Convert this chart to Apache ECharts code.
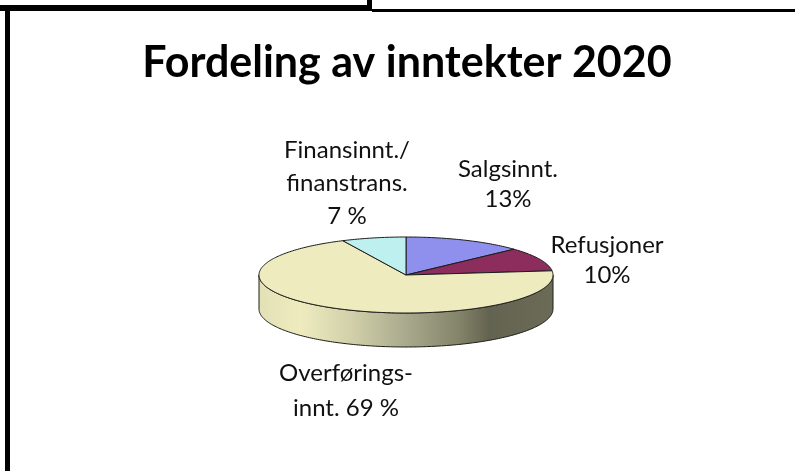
<!DOCTYPE html>
<html>
<head>
<meta charset="utf-8">
<title>Fordeling av inntekter 2020</title>
<script src="https://cdn.jsdelivr.net/npm/echarts@6/dist/echarts.min.js"></script>
<style>
  html, body { margin: 0; padding: 0; background: #fff; }
  #chart { width: 795px; height: 471px; }
</style>
</head>
<body>
<div id="chart"></div>
<script>
// verdier lest av figuren (summerer til 99, slik som originalen)
const categories = ['Salgsinnt.', 'Refusjoner', 'Overførings', 'Finansinnt.'];
const values = [13, 10, 69, 7];
const labels = ['Salgsinnt.\n13%', 'Refusjoner\n10%', 'Overførings-\ninnt. 69 %', 'Finansinnt./\nfinanstrans.\n7 %'];
const sliceColors = ['#8f8fee', '#8c2d5d', '#eeecbf', '#bdf0ef'];
const labelPos = [[508, 184, 30], [607, 260, 30], [346, 391, 35], [347, 183, 33]];

const cx = 406, cy = 275, rx = 147, ry = 38, depth = 34;
const total = values.reduce((a, b) => a + b, 0);

function ellipsePoint(deg, dy) {
  const a = deg * Math.PI / 180;
  return [cx + rx * Math.sin(a), cy + (dy || 0) - ry * Math.cos(a)];
}

function renderWall() {
  const pts = [];
  for (let d = 90; d <= 270; d++) pts.push(ellipsePoint(d, 0));
  for (let d = 270; d >= 90; d--) pts.push(ellipsePoint(d, depth));
  return {
    type: 'polygon',
    shape: { points: pts },
    style: {
      stroke: '#1c1c16',
      lineWidth: 1,
      fill: new echarts.graphic.LinearGradient(0, 0, 1, 0, [
        { offset: 0, color: '#e2e1b5' },
        { offset: 0.14, color: '#eeecbf' },
        { offset: 0.32, color: '#d0cfa9' },
        { offset: 0.5, color: '#a9a98d' },
        { offset: 0.68, color: '#84846a' },
        { offset: 0.78, color: '#636351' },
        { offset: 1, color: '#6b6b57' }
      ])
    }
  };
}

function renderSlice(params, api) {
  const i = params.dataIndex;
  const before = values.slice(0, i).reduce((a, b) => a + b, 0);
  const start = before / total * 360;
  const end = (before + api.value(0)) / total * 360;
  const pts = [[cx, cy]];
  for (let d = start; d < end; d += 1) pts.push(ellipsePoint(d));
  pts.push(ellipsePoint(end));
  return {
    type: 'group',
    children: [
      {
        type: 'polygon',
        shape: { points: pts },
        style: { fill: sliceColors[i], stroke: '#1c1c1c', lineWidth: 1 }
      },
      {
        type: 'text',
        style: {
          text: labels[i],
          x: labelPos[i][0],
          y: labelPos[i][1],
          align: 'center',
          verticalAlign: 'middle',
          lineHeight: labelPos[i][2],
          font: '24px Lato',
          fill: '#111'
        }
      }
    ]
  };
}

const chart = echarts.init(document.getElementById('chart'));
chart.setOption({
  animation: false,
  backgroundColor: '#fff',
  title: {
    text: 'Fordeling av inntekter 2020',
    left: 402,
    top: 37,
    textAlign: 'center',
    textStyle: { fontFamily: 'Lato', fontWeight: 'bold', fontSize: 43, color: '#000' }
  },
  // ramme rundt figuren
  graphic: [
    { type: 'rect', shape: { x: 0, y: 5, width: 372, height: 6 }, style: { fill: '#000' } },
    { type: 'rect', shape: { x: 367, y: 0, width: 5, height: 11 }, style: { fill: '#000' } },
    { type: 'rect', shape: { x: 372, y: 9, width: 423, height: 3 }, style: { fill: '#000' } },
    { type: 'rect', shape: { x: 5, y: 10, width: 5, height: 461 }, style: { fill: '#000' } }
  ],
  series: [
    {
      type: 'custom',
      coordinateSystem: 'none',
      silent: true,
      data: [0],
      renderItem: renderWall
    },
    {
      type: 'custom',
      coordinateSystem: 'none',
      silent: true,
      data: values.map((v, i) => ({ name: categories[i], value: [v] })),
      renderItem: renderSlice
    }
  ]
});
window.addEventListener('resize', () => { chart.resize(); });
</script>
</body>
</html>
